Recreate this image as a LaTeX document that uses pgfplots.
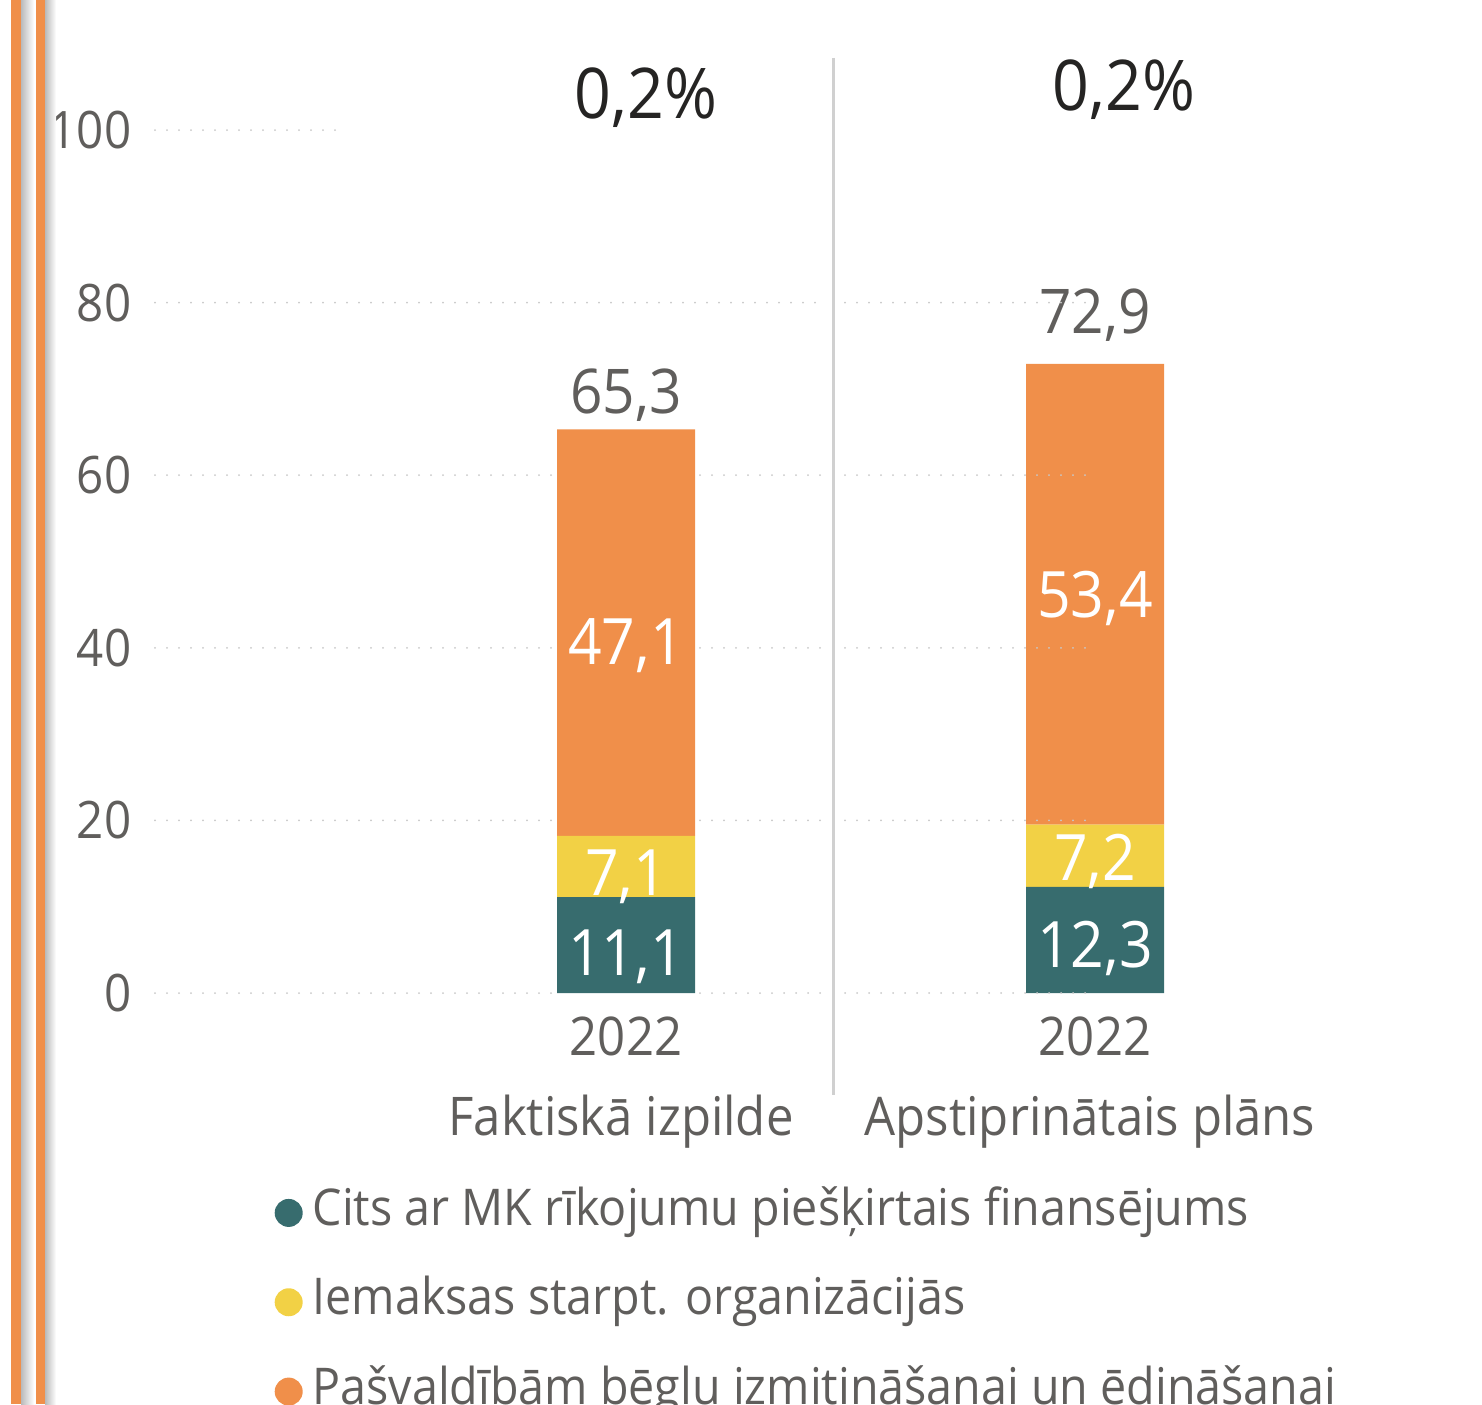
\documentclass[border=0pt]{standalone}
\usepackage{fontspec}
\setmainfont{Open Sans}[FakeStretch=0.92]
\usepackage{pgfplots}
\pgfplotsset{compat=1.18}
\definecolor{cteal}{HTML}{376C6E}
\definecolor{cyel}{HTML}{F2D145}
\definecolor{corg}{HTML}{F08F4A}
\definecolor{ctxt}{HTML}{605E5C}
\definecolor{cdark}{HTML}{252423}
\definecolor{cgrid}{HTML}{C8C8C8}
\definecolor{csep}{HTML}{D0D0D0}
\tikzset{gridln/.style={cgrid, line width=0.6pt, line cap=round, dash pattern=on 0pt off 3.6pt},
  vlab/.style={inner sep=0pt, anchor=base, font=\fontsize{19.2}{21}\selectfont, text=white}}
\begin{document}
\begin{tikzpicture}
\useasboundingbox (0,0) rectangle (444.6pt,421.2pt);
\clip (0,0) rectangle (444.6pt,421.2pt);
\begin{axis}[
  at={(0,0)}, anchor=south west,
  scale only axis, width=444.6pt, height=421.2pt,
  xmin=0, xmax=1482, ymin=-47.625, ymax=115.064,
  clip=false,
  hide x axis,
  axis y line*=left,
  y axis line style={draw=none},
  ytick={0,20,40,60,80,100},
  ytick style={draw=none},
  major tick length=0pt,
  /pgf/number format/assume math mode=true,
  yticklabel style={anchor=east, xshift=39.6pt, inner sep=0pt,
    font=\fontsize{15.5}{18}\selectfont, text=ctxt},
  ybar stacked, bar width=138,
  legend style={at={(0.1849,0.1538)}, anchor=north west, draw=none, fill=none,
    inner sep=0pt, row sep=12.3pt, column sep=3pt,
    font=\fontsize{15.2}{17}\selectfont, text=ctxt,
    cells={anchor=west},
    nodes={inner sep=0pt, text height=11pt, text depth=3.5pt}},
  legend cell align=left,
  legend image code/.code={\fill[#1] (4.2pt,0pt) circle (4.2pt);},
  after end axis/.code={
    % panel 2 grid (over bars)
    \draw[gridln] (axis cs:845,0) -- (axis cs:1090,0);
    \draw[gridln] (axis cs:845,20) -- (axis cs:1090,20);
    \draw[gridln] (axis cs:845,40) -- (axis cs:1090,40);
    \draw[gridln] (axis cs:845,60) -- (axis cs:1090,60);
    \draw[gridln] (axis cs:845,80) -- (axis cs:1090,80);
    % labels inside the bars
    \node[vlab] at (axis cs:626,{(993-664)/8.63}) {47,1};
    \node[vlab] at (axis cs:626,{(993-895)/8.63}) {7,1};
    \node[vlab] at (axis cs:626,{(993-975)/8.63}) {11,1};
    \node[vlab] at (axis cs:1095,{(993-617)/8.63}) {53,4};
    \node[vlab] at (axis cs:1095,{(993-880)/8.63}) {7,2};
    \node[vlab] at (axis cs:1095,{(993-967)/8.63}) {12,3};
  },
]
% left decorative stripes
\fill[corg] (11,-47.625) rectangle (21,115.064);
\shade[left color=black!27, right color=white] (21,-47.625) rectangle (34,115.064);
\fill[corg] (36,-47.625) rectangle (45,115.064);
\shade[left color=black!27, right color=white] (45,-47.625) rectangle (56,115.064);
% panel 1 grid (avoiding bar)
\draw[gridln] (155,0) -- (552,0);   \draw[gridln] (700,0) -- (825,0);
\draw[gridln] (155,20) -- (552,20); \draw[gridln] (700,20) -- (825,20);
\draw[gridln] (155,40) -- (552,40); \draw[gridln] (700,40) -- (825,40);
\draw[gridln] (155,60) -- (552,60); \draw[gridln] (700,60) -- (825,60);
\draw[gridln] (155,80) -- (825,80);
\draw[gridln] (155,100) -- (345,100);

\addplot[fill=cteal, draw=none] coordinates {(626,11.1) (1095,12.3)};
\addlegendentry{Cits ar MK rīkojumu piešķirtais finansējums}
\addplot[fill=cyel, draw=none] coordinates {(626,7.1) (1095,7.2)};
\addlegendentry{Iemaksas starpt. organizācijās}
\addplot[fill=corg, draw=none] coordinates {(626,47.1) (1095,53.4)};
\addlegendentry{Pašvaldībām bēgļu izmitināšanai un ēdināšanai}

% separator
\draw[csep, line width=0.9pt] (833,{(993-58)/8.63}) -- (833,{(993-1095)/8.63});
% totals
\node[inner sep=0pt, anchor=base, font=\fontsize{18.5}{20}\selectfont, text=ctxt] at (626,{(993-413)/8.63}) {65,3};
\node[inner sep=0pt, anchor=base, font=\fontsize{18.5}{20}\selectfont, text=ctxt] at (1095,{(993-333)/8.63}) {72,9};
% percentages
\node[inner sep=0pt, anchor=base, text=cdark, font=\fontsize{21}{24}\selectfont] at (646,{(993-118)/8.63}) {0,2\%};
\node[inner sep=0pt, anchor=base, text=cdark, font=\fontsize{21}{24}\selectfont] at (1124,{(993-110)/8.63}) {0,2\%};
% category labels
\node[inner sep=0pt, anchor=base, text=ctxt, font=\fontsize{16}{18}\selectfont] at (626,{(993-1055)/8.63}) {2022};
\node[inner sep=0pt, anchor=base, text=ctxt, font=\fontsize{16}{18}\selectfont] at (1095,{(993-1055)/8.63}) {2022};
\node[inner sep=0pt, anchor=base, text=ctxt, font=\fontsize{16}{18}\selectfont] at (621,{(993-1135)/8.63}) {Faktiskā izpilde};
\node[inner sep=0pt, anchor=base, text=ctxt, font=\fontsize{16}{18}\selectfont] at (1090,{(993-1135)/8.63}) {Apstiprinātais plāns};
\end{axis}
\end{tikzpicture}
\end{document}
